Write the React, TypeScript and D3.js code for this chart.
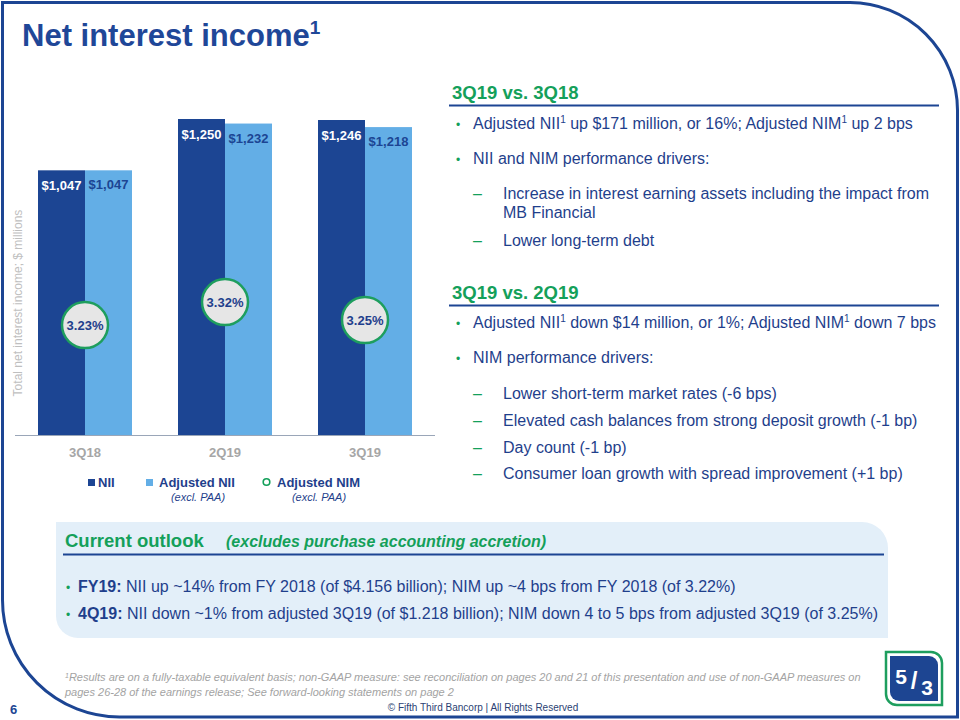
import React from "react";
import * as d3 from "d3";

const categories = ["3Q18", "2Q19", "3Q19"];
const nii = [1047, 1250, 1246];
const adjustedNii = [1047, 1232, 1218];
const adjustedNim = [3.23, 3.32, 3.25];
const seriesKeys = ["nii", "adj"];

const DARK = "#1c4593";
const LIGHT = "#63aee6";
const GREEN = "#14a05a";
const TEXT = "#1f3f8c";
const FONT = "'Liberation Sans', Arial, sans-serif";

const fmt = (v: number) => "$" + d3.format(",")(v);

const x0 = d3.scaleBand<string>().domain(categories).range([15, 435]).paddingInner(0.3286).paddingOuter(0.1643);
const x1 = d3.scaleBand<string>().domain(seriesKeys).range([0, x0.bandwidth()]);
const y = d3.scaleLinear().domain([0, 1250]).range([435, 119]);
const yNim = d3.scaleLinear().domain([3.0, 3.5]).range([384, 256]);

const Sup = ({ children }: { children: React.ReactNode }) => (
  <tspan dy={-6} fontSize="10">{children}</tspan>
);

function Bullet({ x, y, children }: { x: number; y: number; children: React.ReactNode }) {
  return (
    <g>
      <text x={x} y={y} fill={GREEN} fontSize="12" fontFamily={FONT}>•</text>
      <text x={x + 17} y={y} fill={TEXT} fontSize="16" fontFamily={FONT}>{children}</text>
    </g>
  );
}
function Dash({ x, y, lines }: { x: number; y: number; lines: string[] }) {
  return (
    <g>
      <text x={x} y={y} fill={GREEN} fontSize="16" fontFamily={FONT}>–</text>
      {lines.map((l, i) => (
        <text key={i} x={x + 30} y={y + i * 19} fill={TEXT} fontSize="16" fontFamily={FONT}>{l}</text>
      ))}
    </g>
  );
}

export default function App() {
  return (
    <svg width={960} height={720} style={{ position: "absolute", left: 0, top: 0, background: "#fff" }} fontFamily={FONT}>
      {/* slide frame */}
      <path d="M2.5 2.5 H850 A108 108 0 0 1 957.5 110 V717 H120 A117 117 0 0 1 2.5 600 Z" fill="none" stroke={DARK} strokeWidth={3} />

      {/* title */}
      <text x={22} y={46} fill="#1f4798" fontSize="31" fontWeight="bold">
        Net interest income<tspan dy={-12} fontSize="19">1</tspan>
      </text>

      {/* chart */}
      <g>
        {categories.map((c, i) => (
          <g key={c} transform={`translate(${x0(c)},0)`}>
            <rect x={x1("nii")} y={y(nii[i])} width={x1.bandwidth()} height={y(0) - y(nii[i])} fill={DARK} />
            <rect x={x1("adj")} y={y(adjustedNii[i])} width={x1.bandwidth()} height={y(0) - y(adjustedNii[i])} fill={LIGHT} />
            <text x={(x1("nii") as number) + x1.bandwidth() / 2} y={y(nii[i]) + 20} textAnchor="middle" fill="#fff" fontSize="13" fontWeight="bold">{fmt(nii[i])}</text>
            <text x={(x1("adj") as number) + x1.bandwidth() / 2} y={y(adjustedNii[i]) + 19} textAnchor="middle" fill={DARK} fontSize="13" fontWeight="bold">{fmt(adjustedNii[i])}</text>
          </g>
        ))}
        <line x1={15} x2={435} y1={y(0) + 0.5} y2={y(0) + 0.5} stroke="#9aa6b8" strokeWidth={1} />
        {categories.map((c, i) => {
          const cx = (x0(c) as number) + x0.bandwidth() / 2;
          const cy = yNim(adjustedNim[i]);
          return (
            <g key={c + "nim"}>
              <circle cx={cx} cy={cy} r={23} fill="#e6e6e6" stroke="#1e9e5e" strokeWidth={2.5} />
              <text x={cx} y={cy + 5} textAnchor="middle" fill={TEXT} fontSize="13" fontWeight="bold">{adjustedNim[i].toFixed(2)}%</text>
              <text x={cx} y={457} textAnchor="middle" fill="#a6a6a6" fontSize="13" fontWeight="bold">{c}</text>
            </g>
          );
        })}
        <text transform="translate(22,303) rotate(-90)" textAnchor="middle" fill="#bfbfbf" fontSize="12">Total net interest income; $ millions</text>
      </g>

      {/* legend */}
      <g fontSize="13" fontWeight="bold" fill={TEXT}>
        <rect x={88} y={479} width={7} height={7} fill={DARK} />
        <text x={98} y={487}>NII</text>
        <rect x={146} y={479} width={7} height={7} fill={LIGHT} />
        <text x={159} y={487}>Adjusted NII</text>
        <text x={198} y={500.5} textAnchor="middle" fontWeight="normal" fontStyle="italic" fontSize="11">(excl. PAA)</text>
        <circle cx={266.5} cy={482} r={3.3} fill="none" stroke={GREEN} strokeWidth={1.6} />
        <text x={277} y={487}>Adjusted NIM</text>
        <text x={319} y={500.5} textAnchor="middle" fontWeight="normal" fontStyle="italic" fontSize="11">(excl. PAA)</text>
      </g>

      {/* right panel */}
      <g>
        <text x={452} y={99} fill={GREEN} fontSize="18.5" fontWeight="bold">3Q19 vs. 3Q18</text>
        <line x1={449} x2={939} y1={105.5} y2={105.5} stroke={DARK} strokeWidth={2} />
        <Bullet x={456} y={129}>Adjusted NII<Sup>1</Sup><tspan dy={6}> up $171 million, or 16%; Adjusted NIM</tspan><Sup>1</Sup><tspan dy={6}> up 2 bps</tspan></Bullet>
        <Bullet x={456} y={164}>NII and NIM performance drivers:</Bullet>
        <Dash x={473} y={199} lines={["Increase in interest earning assets including the impact from", "MB Financial"]} />
        <Dash x={473} y={246} lines={["Lower long-term debt"]} />

        <text x={452} y={299} fill={GREEN} fontSize="18.5" fontWeight="bold">3Q19 vs. 2Q19</text>
        <line x1={449} x2={939} y1={305.5} y2={305.5} stroke={DARK} strokeWidth={2} />
        <Bullet x={456} y={328}>Adjusted NII<Sup>1</Sup><tspan dy={6}> down $14 million, or 1%; Adjusted NIM</tspan><Sup>1</Sup><tspan dy={6}> down 7 bps</tspan></Bullet>
        <Bullet x={456} y={363}>NIM performance drivers:</Bullet>
        <Dash x={473} y={399} lines={["Lower short-term market rates (-6 bps)"]} />
        <Dash x={473} y={426} lines={["Elevated cash balances from strong deposit growth (-1 bp)"]} />
        <Dash x={473} y={453} lines={["Day count (-1 bp)"]} />
        <Dash x={473} y={479} lines={["Consumer loan growth with spread improvement (+1 bp)"]} />
      </g>

      {/* outlook box */}
      <path d="M56 522 H862 A26 26 0 0 1 888 548 V638 H78 A22 22 0 0 1 56 616 Z" fill="#e3eff9" />
      <text x={65} y={547} fill={GREEN} fontSize="18.5" fontWeight="bold">Current outlook</text>
      <text x={226} y={547} fill={GREEN} fontSize="16" fontWeight="bold" fontStyle="italic">(excludes purchase accounting accretion)</text>
      <line x1={63} x2={884} y1={554.5} y2={554.5} stroke={DARK} strokeWidth={2} />
      <text x={66} y={592} fill={GREEN} fontSize="12">•</text>
      <text x={78} y={592} fill={TEXT} fontSize="16"><tspan fontWeight="bold">FY19:</tspan> NII up ~14% from FY 2018 (of $4.156 billion); NIM up ~4 bps from FY 2018 (of 3.22%)</text>
      <text x={66} y={619} fill={GREEN} fontSize="12">•</text>
      <text x={78} y={619} fill={TEXT} fontSize="16"><tspan fontWeight="bold">4Q19:</tspan> NII down ~1% from adjusted 3Q19 (of $1.218 billion); NIM down 4 to 5 bps from adjusted 3Q19 (of 3.25%)</text>

      {/* footnote */}
      <g fill="#a3a3a3" fontSize="11" fontStyle="italic">
        <text x={65} y={681}><tspan dy={-3} fontSize="7">1</tspan><tspan dy={3}>Results are on a fully-taxable equivalent basis; non-GAAP measure: see reconciliation on pages 20 and 21 of this presentation and use of non-GAAP measures on</tspan></text>
        <text x={65} y={696}>pages 26-28 of the earnings release; See forward-looking statements on page 2</text>
      </g>
      <text x={10} y={714} fill={DARK} fontSize="13" fontWeight="bold">6</text>
      <text x={483} y={711} textAnchor="middle" fill="#2b3f73" fontSize="10">© Fifth Third Bancorp | All Rights Reserved</text>

      {/* logo */}
      <g>
        <path d="M886 652 H931 A11 11 0 0 1 942 663 V705 H897 A11 11 0 0 1 886 694 Z" fill="#fff" stroke="#1e9e5e" strokeWidth={2.5} />
        <path d="M890 656 H929 A9 9 0 0 1 938 665 V701 H899 A9 9 0 0 1 890 692 Z" fill="#1d4592" />
        <text x={901} y={684} fill="#fff" fontSize="21" fontWeight="bold" textAnchor="middle">5</text>
        <text x={914} y={689} fill="#fff" fontSize="24" fontWeight="bold" textAnchor="middle">/</text>
        <text x={927} y={695} fill="#fff" fontSize="21" fontWeight="bold" textAnchor="middle">3</text>
      </g>
    </svg>
  );
}
